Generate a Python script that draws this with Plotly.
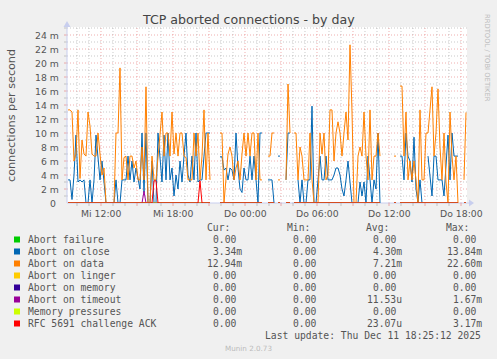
import pandas as pd
import plotly.graph_objects as go

N = None

# ---------------- data (10-minute samples) ----------------
start_time = "2025-12-10 09:15"
sample_step = "10min"

close_vals = [
    3.3, 3.3, 0.5, 4, 9.7, 3, 3.3, 3, 3.3, 0,
    0, 3.3, 0, 3.3, 9.7, 6, 3.3, 6, 3, 0,
    0, 0, 0, 0, 3.3, 0, 0, 3.3, 3.3, 3.3,
    6.7, 3.3, 6, 3, 5, 3.3, 2, 10, 1.5, 10,
    0, 0, 6, 0, 0, 10, 6, 3, 9.7, 3.3,
    10, 3.3, 5, 1, 4, 2, 6, 3, 6.7, 10,
    4, 3, 6.7, 3.3, 10, 3, 3.3, 3.3, 6.7, 10,
    10, 10, N, N, N, N, 6.6, 6.6, 4.7, 5,
    3.3, 5, 4.7, 3.3, 10, 5, 2, 1.5, 5, 3.3,
    3.3, 6.7, 3.3, 6.7, 3.3, 0, 10, 10, N, N,
    3.3, 3.3, 3.3, 0, N, 6.7, 6.7, N, N, 3.3,
    10, 10, N, N, N, 3.3, 0, 3.3, 0, 0,
    3.3, 3.3, 13.84, 0, 0, 3.3, 6.7, 3.3, 3.3, 6.7,
    3.3, 3.3, 3.3, 4, 5, 5, 4, 2, 1, 3.3,
    6, 3, 0, 0, 0, 0, 3, 1, 3, 0,
    6.7, 3, 0, 3.3, 2, 10, 0, N, N, N,
    N, N, N, N, N, N, 6.7, 6.7, 3.3, 10,
    6.7, 6, 3, 9.4, 2, 0, 3.3, 0, 0, N,
    6.7, 3.3, 1, 6.7, 6.7, 3.3, 3.3, 3.3, 1, 6,
    9.7, 3.3, 10, 6.7, 6.7, 6.7, N, N, N, 3.34,
]

data_vals = [
    13.3, 13.3, 13, 6, 7, 13.3, 3.5, 9, 7, 6.7,
    13, 11, 7, 6.7, 6.7, 10, 7, 4, 5, 0,
    0, 0, 0, 0, 10, 10, 19.3, 3.3, 6.5, 6.7,
    3.3, 6.7, 6.7, 5, 6, 3.3, 3.3, 8, 3.3, 16.6,
    0, 0, 6.7, 3.3, 3.3, 6.7, 10, 13, 6.7, 10,
    10, 6.7, 13, 7, 10, 6.7, 10, 10, 6.7, 6.5,
    3.3, 3.3, 3.3, 10, 6.7, 10, 3.3, 6.7, 13.3, 3.3,
    10, 3.3, N, N, N, N, 10, 10, 0, 4,
    7, 8, 6.7, 3.3, 5, 6, 3.3, 7, 10, 6.7,
    10, 6.7, 10, 10, 3.3, 10, 3.3, 3.3, N, N,
    6.7, 6.7, 10, 10, N, 3.3, 3.3, N, N, 3.3,
    17, 10, N, 10, 10, 3.3, 8, 6.7, 3.3, 3.3,
    3.3, 10, 3.3, 0, 0, 0, 10, 7, 10, 3.3,
    4, 13.3, 13.3, 6, 10, 11.6, 10, 6.7, 10, 13,
    9, 22.6, 13, 0, 0, 6.7, 8, 6.7, 13, 6.7,
    3.3, 13.3, 3.3, 6.7, 6.7, 10, 6.7, N, N, N,
    N, N, N, 6.7, 6.7, N, 16.7, 16.7, 6.7, 13,
    3.3, 6, 3.3, 6, 3.3, 0, 13.3, 3.3, 3.3, 10,
    10, 13.3, 16.6, 6.7, 10, 16.3, 8, 3.3, 10, 3,
    0, 13, 6.7, 3.3, 6.7, 0, N, N, 3.3, 12.94,
]

# sparse non-zero samples of the small series (index: value)
timeout_points = {38: 1.67}
ack_points = {43: 3.17, 44: 3.17, 66: 3.17}

series_names = ["Abort failure", "Abort on close", "Abort on data", "Abort on linger",
                "Abort on memory", "Abort on timeout", "Memory pressures", "RFC 5691 challenge ACK"]
series_colors = ["#00CC00", "#0066B3", "#FF8000", "#FFCC00",
                 "#330099", "#990099", "#CCFF00", "#FF0000"]
cur_text = ["0.00 ", "3.34m", "12.94m", "0.00 ", "0.00 ", "0.00 ", "0.00 ", "0.00 "]
min_text = ["0.00 "] * 8
avg_text = ["0.00 ", "4.30m", "7.21m", "0.00 ", "0.00 ", "11.53u", "0.00 ", "23.07u"]
max_text = ["0.00 ", "13.84m", "22.60m", "0.00 ", "0.00 ", "1.67m", "0.00 ", "3.17m"]

x_tick_times = ["2025-12-10 12:00", "2025-12-10 18:00", "2025-12-11 00:00",
                "2025-12-11 06:00", "2025-12-11 12:00", "2025-12-11 18:00"]
x_tick_labels = ["Mi 12:00", "Mi 18:00", "Do 00:00", "Do 06:00", "Do 12:00", "Do 18:00"]
y_tick_vals = [0, 2, 4, 6, 8, 10, 12, 14, 16, 18, 20, 22, 24]
y_tick_labels = ["0 "] + [f"{v} m" for v in y_tick_vals[1:]]

title_text = "TCP aborted connections - by day"
y_title = "connections per second"
last_update = "Last update: Thu Dec 11 18:25:12 2025"

# ---------------- build ----------------
times = pd.date_range(start_time, periods=len(close_vals), freq=sample_step)
present = [(c is not None or d is not None) for c, d in zip(close_vals, data_vals)]
zero_series = [0 if p else None for p in present]
timeout_vals = [(timeout_points.get(i, 0) if p else None) for i, p in enumerate(present)]
ack_vals = [(ack_points.get(i, 0) if p else None) for i, p in enumerate(present)]

all_vals = [zero_series, close_vals, data_vals, zero_series, zero_series,
            timeout_vals, zero_series, ack_vals]

# pixel geometry
W, H = 497, 359
L, R, T, B = 67, 467, 27, 203
YMAX = (B - T) / 7.0


def px(xpix):
    return (xpix - L) / (R - L)


def py(ypix):
    return (B - ypix) / (B - T)


fig = go.Figure()
for name, col, vals in zip(series_names, series_colors, all_vals):
    fig.add_trace(go.Scatter(x=times, y=vals, mode="lines", name=name,
                             line=dict(color=col, width=1), connectgaps=False,
                             showlegend=False, hoverinfo="skip"))

x_start = pd.Timestamp("2025-12-10 09:10")
x_end = pd.Timestamp("2025-12-11 18:30")

shapes = []
minor_col = "rgba(150,150,150,0.5)"
major_col = "rgba(230,120,120,0.6)"
# horizontal grid
for v in range(1, 26):
    if v > YMAX:
        break
    col = major_col if v % 2 == 0 and v <= 24 else minor_col
    shapes.append(dict(type="line", xref="paper", yref="y", x0=0, x1=1, y0=v, y1=v,
                       line=dict(color=col, width=1, dash="1px,2px"), layer="below"))
    shapes.append(dict(type="line", xref="paper", yref="y", x0=px(L - 3), x1=px(L), y0=v, y1=v,
                       line=dict(color=col, width=1)))
# vertical grid (hourly minor, 3-hourly major)
hours = pd.date_range("2025-12-10 10:00", "2025-12-11 18:00", freq="1h")
for h in hours:
    col = major_col if h.hour % 3 == 0 else minor_col
    shapes.append(dict(type="line", xref="x", yref="paper", x0=h, x1=h, y0=0, y1=1,
                       line=dict(color=col, width=1, dash="1px,2px"), layer="below"))
    shapes.append(dict(type="line", xref="x", yref="paper", x0=h, x1=h, y0=py(B), y1=py(B + 3),
                       line=dict(color=col, width=1)))
# axes + arrows
axis_col = "#C8CEEE"
shapes.append(dict(type="line", xref="paper", yref="paper", x0=0, x1=px(470), y0=0, y1=0,
                   line=dict(color=axis_col, width=1), layer="below"))
shapes.append(dict(type="line", xref="paper", yref="paper", x0=0, x1=0, y0=0, y1=py(24),
                   line=dict(color=axis_col, width=1)))
shapes.append(dict(type="path", xref="paper", yref="paper",
                   path=f"M {px(469)} {py(199.5)} L {px(474)} {py(203)} L {px(469)} {py(206.5)} Z",
                   fillcolor=axis_col, line=dict(color=axis_col, width=0)))
shapes.append(dict(type="path", xref="paper", yref="paper",
                   path=f"M {px(63.5)} {py(27)} L {px(67)} {py(21)} L {px(70.5)} {py(27)} Z",
                   fillcolor=axis_col, line=dict(color=axis_col, width=0)))

annotations = []
txt_col = "#555555"
sans = "DejaVu Sans"
mono = "DejaVu Sans Mono"

annotations.append(dict(text=title_text, xref="paper", yref="paper", x=px(248), y=py(19.5),
                        showarrow=False, xanchor="center", yanchor="middle",
                        font=dict(family=sans, size=12.6, color="#444444")))
annotations.append(dict(text=y_title, xref="paper", yref="paper", x=px(11), y=py(115),
                        showarrow=False, xanchor="center", yanchor="middle", textangle=-90,
                        font=dict(family=sans, size=11.2, color=txt_col)))
annotations.append(dict(text="RRDTOOL / TOBI OETIKER", xref="paper", yref="paper", x=px(487),
                        y=py(58), showarrow=False, xanchor="center", yanchor="middle",
                        textangle=90, font=dict(family=sans, size=6.8, color="#BBBBBB")))
for v, lab in zip(y_tick_vals, y_tick_labels):
    annotations.append(dict(text=lab.replace(" ", "\u00a0"), xref="paper", yref="y", x=px(60.5),
                            y=v, showarrow=False, xanchor="right", yanchor="middle",
                            font=dict(family=sans, size=9.3, color=txt_col)))
for t, lab in zip(x_tick_times, x_tick_labels):
    annotations.append(dict(text=lab, xref="x", yref="paper", x=t, y=py(213),
                            showarrow=False, xanchor="center", yanchor="middle",
                            font=dict(family=sans, size=9.3, color=txt_col)))

# legend table
fs = 9.7
header_y = 227.3
for lab, xr in zip(["Cur:", "Min:", "Avg:", "Max:"], [231.5, 311.5, 390.5, 470.5]):
    annotations.append(dict(text=lab, xref="paper", yref="paper", x=px(xr), y=py(header_y),
                            showarrow=False, xanchor="right", yanchor="middle",
                            font=dict(family=mono, size=fs, color=txt_col)))
row0 = 239.5
for k, name in enumerate(series_names):
    yy = row0 + 12 * k
    shapes.append(dict(type="rect", xref="paper", yref="paper", x0=px(14), x1=px(20),
                       y0=py(yy - 3), y1=py(yy + 3), fillcolor=series_colors[k],
                       line=dict(width=0)))
    annotations.append(dict(text=name, xref="paper", yref="paper", x=px(26), y=py(yy),
                            showarrow=False, xanchor="left", yanchor="middle",
                            font=dict(family=mono, size=fs, color=txt_col)))
    for col_vals, xr in zip([cur_text, min_text, avg_text, max_text], [244, 323.5, 403.5, 483.5]):
        annotations.append(dict(text=col_vals[k].replace(" ", "\u00a0"), xref="paper", yref="paper",
                                x=px(xr), y=py(yy), showarrow=False, xanchor="right",
                                yanchor="middle", font=dict(family=mono, size=fs, color=txt_col)))
annotations.append(dict(text=last_update, xref="paper", yref="paper", x=px(483), y=py(335.7),
                        showarrow=False, xanchor="right", yanchor="middle",
                        font=dict(family=mono, size=fs, color=txt_col)))
annotations.append(dict(text="Munin 2.0.73", xref="paper", yref="paper", x=px(248), y=py(348.3),
                        showarrow=False, xanchor="center", yanchor="middle",
                        font=dict(family=sans, size=7.2, color="#BBBBBB")))

fig.update_layout(
    width=W, height=H, autosize=False,
    margin=dict(l=L, r=W - R, t=T, b=H - B, pad=0),
    paper_bgcolor="#F0F0F0", plot_bgcolor="#FFFFFF",
    xaxis=dict(type="date", range=[x_start, x_end], showgrid=False, zeroline=False,
               showticklabels=False, ticks="", showline=False, fixedrange=True),
    yaxis=dict(range=[0, YMAX], showgrid=False, zeroline=False, showticklabels=False,
               ticks="", showline=False, fixedrange=True),
    shapes=shapes, annotations=annotations, showlegend=False, hovermode=False,
)

fig.write_html(
    "out.html",
    config={"displayModeBar": False, "staticPlot": True},
    post_script="document.body.style.margin='0';document.body.style.padding='0';"
                "document.body.style.overflow='hidden';"
                "document.body.style.background='#F0F0F0';",
)
